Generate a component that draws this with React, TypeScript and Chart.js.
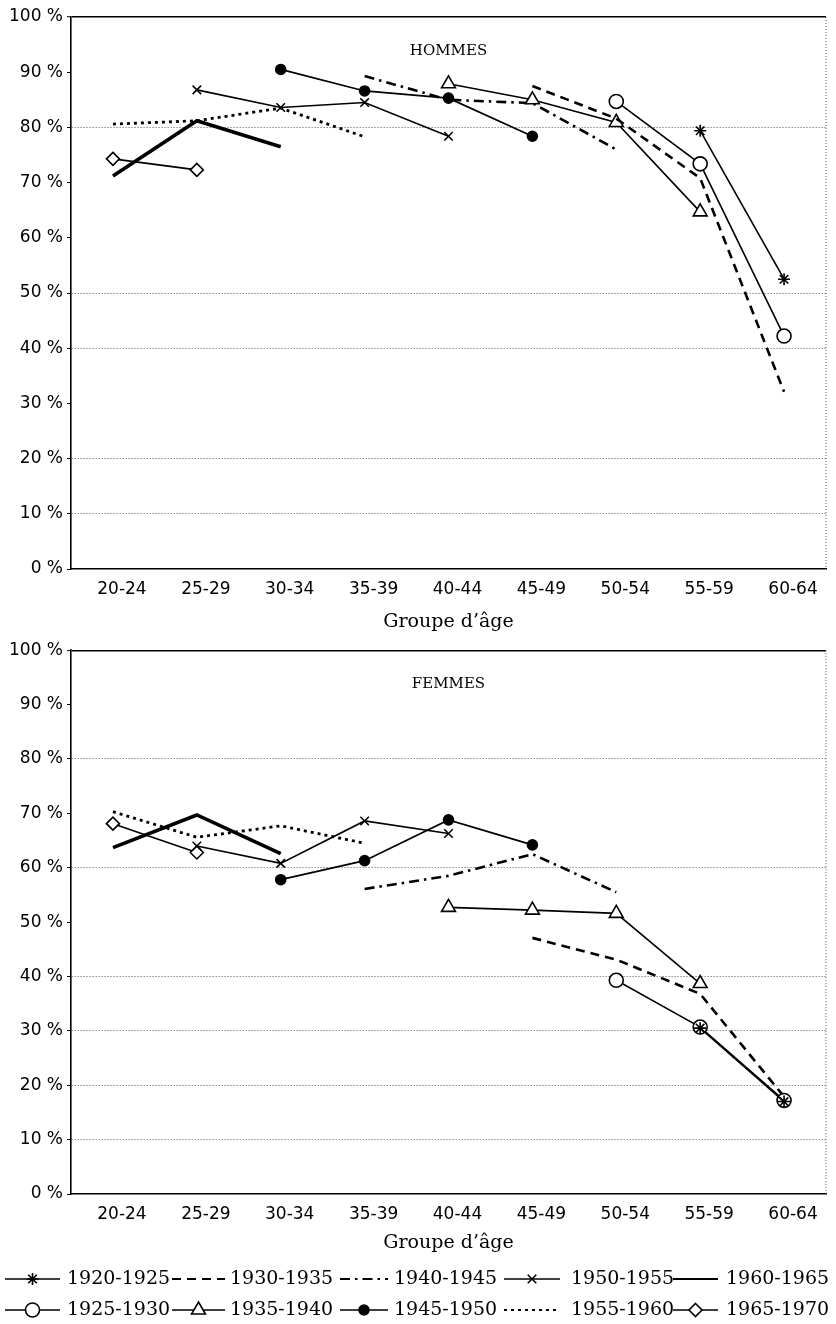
import React, { useEffect, useRef } from 'react';
import { Chart, registerables } from 'chart.js';

Chart.register(...registerables);

// ---------- data ----------
const AGE_GROUPS = ['20-24', '25-29', '30-34', '35-39', '40-44', '45-49', '50-54', '55-59', '60-64'];
const Y_TICK_VALUES = [0, 10, 20, 30, 40, 50, 60, 70, 80, 90, 100];
const X_TITLE = "Groupe d\u2019âge";
const TITLE_H = 'HOMMES';
const TITLE_F = 'FEMMES';

const COHORTS = ['1920-1925', '1925-1930', '1930-1935', '1935-1940', '1940-1945', '1945-1950', '1950-1955', '1955-1960', '1960-1965', '1965-1970'];

const n = null;
// HOMMES
const H_1920_1925 = [n, n, n, n, n, n, n, 79.4, 52.5];
const H_1925_1930 = [n, n, n, n, n, n, 84.7, 73.4, 42.2];
const H_1930_1935 = [n, n, n, n, n, 87.5, 81.6, 70.8, 32.1];
const H_1935_1940 = [n, n, n, n, 87.9, 85.0, 80.9, 64.7, n];
const H_1940_1945 = [n, n, n, 89.3, 85.0, 84.4, 76.0, n, n];
const H_1945_1950 = [n, n, 90.5, 86.6, 85.3, 78.4, n, n, n];
const H_1950_1955 = [n, 86.8, 83.6, 84.5, 78.4, n, n, n, n];
const H_1955_1960 = [80.6, 81.2, 83.5, 78.3, n, n, n, n, n];
const H_1960_1965 = [71.2, 81.2, 76.5, n, n, n, n, n, n];
const H_1965_1970 = [74.3, 72.3, n, n, n, n, n, n, n];

// FEMMES
const F_1920_1925 = [n, n, n, n, n, n, n, 30.5, 17.0];
const F_1925_1930 = [n, n, n, n, n, n, 39.3, 30.7, 17.2];
const F_1930_1935 = [n, n, n, n, n, 47.1, 43.1, 36.8, 17.9];
const F_1935_1940 = [n, n, n, n, 52.7, 52.2, 51.6, 38.7, n];
const F_1940_1945 = [n, n, n, 56.1, 58.5, 62.5, 55.5, n, n];
const F_1945_1950 = [n, n, 57.8, 61.3, 68.8, 64.2, n, n, n];
const F_1950_1955 = [n, 64.0, 60.8, 68.6, 66.3, n, n, n, n];
const F_1955_1960 = [70.3, 65.6, 67.7, 64.5, n, n, n, n, n];
const F_1960_1965 = [63.7, 69.7, 62.6, n, n, n, n, n, n];
const F_1965_1970 = [68.1, 62.8, n, n, n, n, n, n, n];

const H_SERIES = [H_1920_1925, H_1925_1930, H_1930_1935, H_1935_1940, H_1940_1945, H_1945_1950, H_1950_1955, H_1955_1960, H_1960_1965, H_1965_1970];
const F_SERIES = [F_1920_1925, F_1925_1930, F_1930_1935, F_1935_1940, F_1940_1945, F_1945_1950, F_1950_1955, F_1955_1960, F_1960_1965, F_1965_1970];

// gridlines that remain visible on the printed figure
const H_GRID_VISIBLE = [10, 20, 40, 50, 80];
const F_GRID_VISIBLE = [10, 20, 30, 40, 60, 80];

// legend arrangement (indices into COHORTS)
const LEGEND_ROW_1 = [0, 2, 4, 6, 8];
const LEGEND_ROW_2 = [1, 3, 5, 7, 9];

// ---------- styles ----------
type Style = { dash: number[]; width: number; marker: string | false; r: number; fill: string };
const STYLES: Style[] = [
  { dash: [], width: 1.6, marker: 'star', r: 6, fill: '#000' },
  { dash: [], width: 1.6, marker: 'circle', r: 7, fill: '#fff' },
  { dash: [9, 6], width: 2.6, marker: false, r: 0, fill: '#000' },
  { dash: [], width: 1.6, marker: 'triangle', r: 8, fill: '#fff' },
  { dash: [10, 5, 2.5, 5], width: 2.6, marker: false, r: 0, fill: '#000' },
  { dash: [], width: 1.7, marker: 'circle', r: 5, fill: '#000' },
  { dash: [], width: 1.6, marker: 'crossRot', r: 6, fill: '#000' },
  { dash: [3, 4], width: 2.8, marker: false, r: 0, fill: '#000' },
  { dash: [], width: 3.6, marker: false, r: 0, fill: '#000' },
  { dash: [], width: 1.6, marker: 'rectRot', r: 6.5, fill: '#fff' },
];

const SANS = '"DejaVu Sans", sans-serif';
const SERIF = '"DejaVu Serif", serif';

function makeDatasets(series: (number | null)[][]) {
  return series.map((data, i) => {
    const s = STYLES[i];
    return {
      label: COHORTS[i],
      data,
      borderColor: '#000',
      backgroundColor: s.fill,
      borderWidth: s.width,
      borderDash: s.dash,
      borderCapStyle: 'butt' as const,
      tension: 0,
      spanGaps: false,
      pointStyle: s.marker || 'circle',
      pointRadius: s.marker ? s.r : 0,
      pointBorderWidth: 1.6,
      pointBorderColor: '#000',
      pointBackgroundColor: s.fill,
      pointHoverRadius: s.marker ? s.r : 0,
    };
  });
}

function drawMarker(ctx: CanvasRenderingContext2D, kind: string, x: number, y: number, r: number, fill: string) {
  ctx.save();
  ctx.setLineDash([]);
  ctx.lineWidth = 1.6;
  ctx.strokeStyle = '#000';
  ctx.fillStyle = fill;
  ctx.beginPath();
  if (kind === 'circle') {
    ctx.arc(x, y, r, 0, Math.PI * 2);
    ctx.fill();
    ctx.stroke();
  } else if (kind === 'triangle') {
    ctx.moveTo(x, y - r);
    ctx.lineTo(x + r * 0.866, y + r * 0.5);
    ctx.lineTo(x - r * 0.866, y + r * 0.5);
    ctx.closePath();
    ctx.fill();
    ctx.stroke();
  } else if (kind === 'rectRot') {
    ctx.moveTo(x, y - r);
    ctx.lineTo(x + r, y);
    ctx.lineTo(x, y + r);
    ctx.lineTo(x - r, y);
    ctx.closePath();
    ctx.fill();
    ctx.stroke();
  } else if (kind === 'crossRot' || kind === 'star') {
    const d = r * 0.7071;
    ctx.moveTo(x - d, y - d); ctx.lineTo(x + d, y + d);
    ctx.moveTo(x - d, y + d); ctx.lineTo(x + d, y - d);
    if (kind === 'star') {
      ctx.moveTo(x, y - r); ctx.lineTo(x, y + r);
      ctx.moveTo(x - r, y); ctx.lineTo(x + r, y);
    }
    ctx.stroke();
  }
  ctx.restore();
}

const framePlugin = {
  id: 'frameRight',
  beforeDatasetsDraw(chart: any) {
    const { ctx, chartArea } = chart;
    ctx.save();
    ctx.strokeStyle = '#555';
    ctx.lineWidth = 1;
    ctx.setLineDash([1, 2]);
    ctx.beginPath();
    ctx.moveTo(chartArea.right, chartArea.top);
    ctx.lineTo(chartArea.right, chartArea.bottom);
    ctx.stroke();
    ctx.restore();
  },
};

function titlePlugin(text: string) {
  return {
    id: 'innerTitle',
    afterDatasetsDraw(chart: any) {
      const { ctx, chartArea } = chart;
      ctx.save();
      ctx.fillStyle = '#000';
      ctx.font = `15px ${SERIF}`;
      ctx.textAlign = 'center';
      ctx.textBaseline = 'middle';
      ctx.fillText(text, (chartArea.left + chartArea.right) / 2, chartArea.top + 34);
      ctx.restore();
    },
  };
}

const LEG_SYM = [[5, 60], [172, 225], [340, 388], [504, 560], [673, 718]];
const LEG_TEXT_X = [67, 230, 394, 571, 726];

const legendPlugin = {
  id: 'customLegend',
  afterDraw(chart: any) {
    const { ctx } = chart;
    const rows = [LEGEND_ROW_1, LEGEND_ROW_2];
    const rowY = [643, 674];
    rows.forEach((row, ri) => {
      row.forEach((di, ci) => {
        const s = STYLES[di];
        const y = rowY[ri];
        const [x0, x1] = LEG_SYM[ci];
        ctx.save();
        ctx.strokeStyle = '#000';
        ctx.lineWidth = Math.min(s.width, 2.2);
        ctx.setLineDash(s.dash);
        ctx.beginPath();
        ctx.moveTo(x0, y);
        ctx.lineTo(x1, y);
        ctx.stroke();
        ctx.restore();
        if (s.marker) drawMarker(ctx, s.marker as string, (x0 + x1) / 2, y, s.r, s.fill);
        ctx.save();
        ctx.fillStyle = '#000';
        ctx.font = `19px ${SERIF}`;
        ctx.textAlign = 'left';
        ctx.textBaseline = 'middle';
        ctx.fillText(COHORTS[di], LEG_TEXT_X[ci], y);
        ctx.restore();
      });
    });
  },
};

function makeConfig(series: (number | null)[][], title: string, gridVisible: number[], padTop: number, padBottom: number, xAxisH: number, titlePad: number, extraPlugins: any[]) {
  return {
    type: 'line' as const,
    data: { labels: AGE_GROUPS, datasets: makeDatasets(series) },
    options: {
      responsive: false,
      animation: false as const,
      events: [],
      layout: { padding: { top: padTop, right: 10, left: 0, bottom: padBottom } },
      plugins: { legend: { display: false }, tooltip: { enabled: false }, title: { display: false } },
      scales: {
        x: {
          type: 'category' as const,
          offset: true,
          grid: { display: false, drawTicks: false },
          border: { display: true, color: '#000', width: 1.6 },
          ticks: {
            color: '#000',
            font: { family: SANS, size: 17 },
            padding: 10,
            labelOffset: 9,
            autoSkip: false,
            maxRotation: 0,
          },
          title: {
            display: true,
            text: X_TITLE,
            color: '#000',
            font: { family: SERIF, size: 19 },
            padding: { top: 0, bottom: titlePad },
          },
          afterFit(scale: any) { scale.height = xAxisH; },
        },
        y: {
          min: 0,
          max: 100,
          afterBuildTicks(scale: any) { scale.ticks = Y_TICK_VALUES.map((v) => ({ value: v })); },
          grid: {
            color: (c: any) => {
              const v = c.tick ? c.tick.value : -1;
              if (v === 100) return '#000';
              return gridVisible.includes(v) ? '#555' : 'rgba(0,0,0,0)';
            },
            lineWidth: (c: any) => (c.tick && c.tick.value === 100 ? 1.4 : 1),
            drawTicks: true,
            tickLength: 4,
            tickColor: '#000',
            tickWidth: 1,
          },
          border: {
            display: true,
            color: '#000',
            width: 1.6,
            dash: (c: any) => (c.tick && c.tick.value === 100 ? [] : [1, 2]),
          },
          ticks: {
            color: '#000',
            font: { family: SANS, size: 17 },
            padding: 4,
            callback: (v: any) => `${v} %`,
          },
          afterFit(scale: any) { scale.width = 71; },
        },
      },
    },
    plugins: [framePlugin, titlePlugin(title), ...extraPlugins],
  };
}

export default function App() {
  const topRef = useRef<HTMLCanvasElement | null>(null);
  const botRef = useRef<HTMLCanvasElement | null>(null);

  useEffect(() => {
    if (!topRef.current || !botRef.current) return;
    const c1 = new Chart(topRef.current, makeConfig(H_SERIES, TITLE_H, H_GRID_VISIBLE, 17, 0, 67, 3, []) as any);
    const c2 = new Chart(botRef.current, makeConfig(F_SERIES, TITLE_F, F_GRID_VISIBLE, 13, 68, 62, 2, [legendPlugin]) as any);
    return () => {
      c1.destroy();
      c2.destroy();
    };
  }, []);

  return (
    <div style={{ position: 'absolute', left: 0, top: 0, width: 836, height: 1324, background: '#fff' }}>
      <canvas ref={topRef} width={836} height={636} style={{ position: 'absolute', left: 0, top: 0, width: 836, height: 636 }} />
      <canvas ref={botRef} width={836} height={688} style={{ position: 'absolute', left: 0, top: 636, width: 836, height: 688 }} />
    </div>
  );
}
